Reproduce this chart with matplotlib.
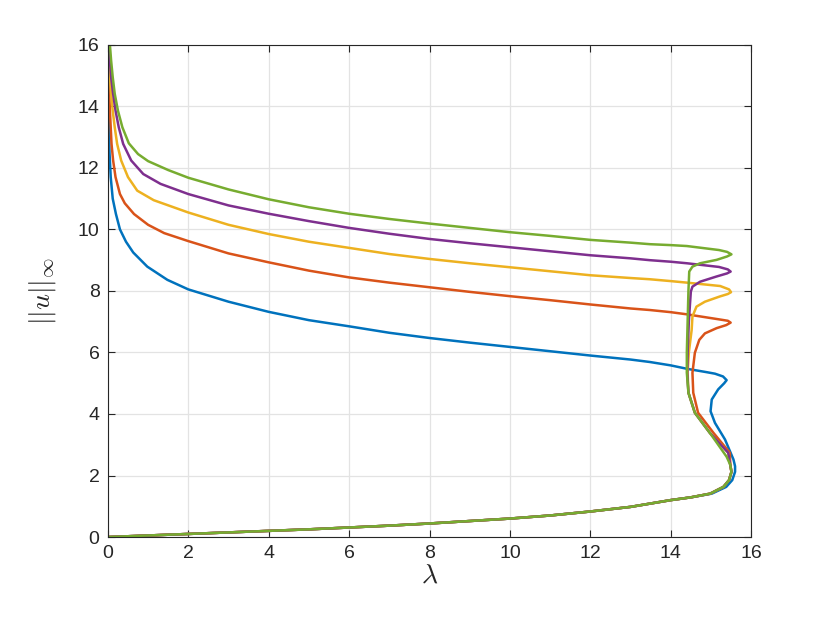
import matplotlib
matplotlib.use("Agg")
import matplotlib.pyplot as plt

plt.rcParams["font.family"] = ["Liberation Sans", "DejaVu Sans"]
plt.rcParams["mathtext.fontset"] = "cm"

# shared lower branch (lambda, ||u||)
low_lam = [0, 1, 2, 3, 4, 5, 6, 7, 8, 9, 10, 11, 12, 13, 13.5, 14, 14.5, 14.98, 15.31, 15.45, 15.51]
low_u = [0, 0.05, 0.1, 0.15, 0.2, 0.25, 0.31, 0.37, 0.44, 0.52, 0.6, 0.7, 0.83, 0.98, 1.09, 1.2,
         1.29, 1.41, 1.63, 1.85, 2.12]

blue_lam = [0, 1, 2, 3, 4, 5, 6, 7, 8, 9, 10, 11, 12, 13, 13.5, 14, 14.5, 15.02, 15.38, 15.53, 15.6,
            15.6, 15.56, 15.35, 15.1, 14.99, 15.02, 15.18, 15.33, 15.39, 15.3, 15.1, 14.89,
            14.4, 14.0, 13.48, 13, 12, 11, 10, 9, 8, 7, 6, 5, 4, 3, 2.0, 1.48, 0.98,
            0.63, 0.45, 0.3, 0.2, 0.12, 0.07, 0.04, 0.02, 0.01, 0.0]
blue_u = [0, 0.05, 0.1, 0.15, 0.2, 0.25, 0.31, 0.37, 0.44, 0.52, 0.6, 0.7, 0.83, 0.98, 1.09, 1.2,
          1.29, 1.41, 1.63, 1.85, 2.12,
          2.3, 2.52, 3.17, 3.71, 4.09, 4.47, 4.8, 5.0, 5.1, 5.22, 5.31, 5.36,
          5.47, 5.58, 5.69, 5.77, 5.90, 6.04, 6.18, 6.32, 6.47, 6.64, 6.85, 7.05, 7.32, 7.65,
          8.05, 8.36, 8.79, 9.25, 9.6, 10.0, 10.5, 11.0, 11.7, 12.5, 13.5, 14.6, 16]

red_lam = low_lam + [15.48, 15.47, 15.06, 14.68, 14.56, 14.54, 14.6, 14.71, 14.85, 15.14,
                     15.38, 15.49, 15.42, 15.23, 14.4, 14.0, 13.48, 13, 12, 11, 10, 9, 8, 7, 6,
                     5, 4, 3, 2.0, 1.4, 1.0, 0.65, 0.42, 0.3, 0.19, 0.13, 0.09, 0.05, 0.02,
                     0.01, 0.0]
red_u = low_u + [2.35, 2.74, 3.39, 4.04, 4.69, 5.34, 5.99, 6.41, 6.62, 6.79,
                 6.89, 6.97, 7.03, 7.07, 7.24, 7.31, 7.38, 7.43, 7.56, 7.7, 7.83, 7.97, 8.12, 8.27,
                 8.44, 8.66, 8.93, 9.22, 9.62, 9.88, 10.15, 10.5, 10.85, 11.15, 11.7, 12.24, 12.78,
                 13.86, 14.8, 15.4, 16]

yellow_lam = low_lam + [15.48, 15.43, 14.97, 14.6, 14.44, 14.42, 14.45, 14.52, 14.54, 14.64,
                        14.85, 15.22, 15.42, 15.5, 15.45, 15.23, 14.4, 14.0, 13.48, 13, 12, 11,
                        10, 9, 8, 7, 6, 5, 4, 3, 2.0, 1.14, 0.73, 0.5, 0.33, 0.23, 0.17, 0.12,
                        0.08, 0.05, 0.02, 0.0]
yellow_u = low_u + [2.35, 2.74, 3.39, 4.04, 4.69, 5.34, 6.0, 6.73, 7.17, 7.49,
                    7.65, 7.82, 7.9, 7.96, 8.05, 8.16, 8.27, 8.32, 8.38, 8.42, 8.51, 8.64,
                    8.77, 8.9, 9.04, 9.2, 9.40, 9.6, 9.85, 10.15, 10.55, 10.95, 11.26, 11.7,
                    12.24, 12.78, 13.32, 13.86, 14.41, 14.95, 15.5, 16]

purple_lam = low_lam + [15.48, 15.43, 14.97, 14.6, 14.44, 14.41, 14.42, 14.45, 14.48, 14.5,
                        14.54, 14.73, 15.14, 15.4, 15.49, 15.42, 15.2, 14.4, 14.0, 13.48, 13,
                        12, 11, 10, 9, 8, 7, 6, 5, 4, 3, 2.0, 1.31, 0.88, 0.58, 0.38, 0.27,
                        0.19, 0.13, 0.08, 0.05, 0.02]
purple_u = low_u + [2.35, 2.74, 3.39, 4.04, 4.69, 5.34, 6.0, 7.0, 7.6, 7.98,
                    8.14, 8.3, 8.47, 8.57, 8.63, 8.7, 8.78, 8.9, 8.95, 9.0, 9.06,
                    9.16, 9.29, 9.42, 9.55, 9.69, 9.86, 10.05, 10.27, 10.51, 10.78, 11.15, 11.48,
                    11.8, 12.24, 12.78, 13.32, 13.86, 14.41, 14.95, 15.49, 16]

green_lam = low_lam + [15.48, 15.39, 15.1, 14.97, 14.6, 14.44, 14.4, 14.4, 14.42, 14.44,
                       14.46, 14.54, 14.73, 15.14, 15.4, 15.51, 15.4, 15.2, 14.4, 14.0, 13.48,
                       13, 12, 11, 10, 9, 8, 7, 6, 5, 4, 3, 2.0, 1.5, 1.0, 0.75, 0.52, 0.36,
                       0.25, 0.17, 0.12, 0.08, 0.05]
green_u = low_u + [2.35, 2.61, 3.15, 3.39, 4.04, 4.69, 5.34, 6.0, 7.0, 8.0,
                   8.63, 8.79, 8.9, 9.01, 9.12, 9.19, 9.27, 9.33, 9.46, 9.49, 9.52,
                   9.57, 9.66, 9.79, 9.91, 10.05, 10.19, 10.34, 10.51, 10.72, 10.98, 11.3, 11.68,
                   11.93, 12.22, 12.45, 12.8, 13.32, 13.86, 14.41, 14.95, 15.49, 16]

curves = [
    (blue_lam, blue_u, "#0072BD"),
    (red_lam, red_u, "#D95319"),
    (yellow_lam, yellow_u, "#EDB120"),
    (purple_lam, purple_u, "#7E2F8E"),
    (green_lam, green_u, "#77AC30"),
]

fig = plt.figure(figsize=(8.3, 6.23), dpi=100)
ax = fig.add_axes([0.130, 0.138, 0.775, 0.790])

for lam, u, c in curves:
    ax.plot(lam, u, color=c, lw=1.8, solid_capstyle="round", solid_joinstyle="round")

ax.set_xlim(0, 16)
ax.set_ylim(0, 16)
ax.set_xticks(range(0, 17, 2))
ax.set_yticks(range(0, 17, 2))
ax.grid(True, color="#e3e3e3", lw=0.9)
ax.set_axisbelow(True)
ax.tick_params(direction="in", top=True, right=True, length=5, width=0.8,
               labelsize=14, colors="#262626", pad=6)
for s in ax.spines.values():
    s.set_color("#262626")
    s.set_linewidth(0.8)

ax.set_xlabel(r"$\lambda$", fontsize=20, color="#262626", labelpad=0)
ax.set_ylabel(r"$||u||_{\infty}$", fontsize=20, color="#262626", labelpad=14)

fig.savefig("out.png", dpi=100)
